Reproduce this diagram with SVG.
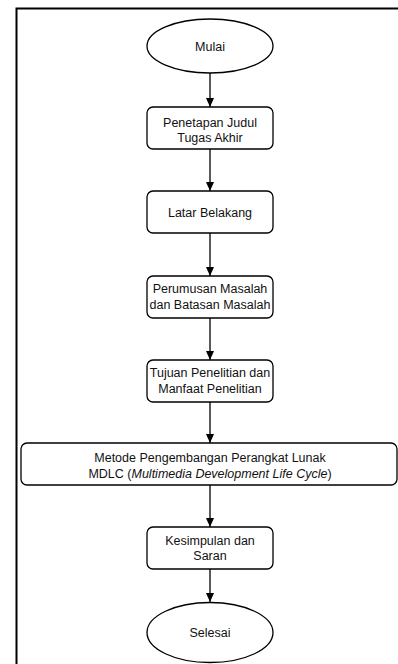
<svg xmlns="http://www.w3.org/2000/svg" width="398" height="664" viewBox="0 0 398 664">
<defs>
<marker id="arr" markerUnits="userSpaceOnUse" markerWidth="10" markerHeight="10" viewBox="0 0 10 10" refX="9" refY="5" orient="auto">
<path d="M0,1 L9,5 L0,9 Z" fill="#000"/>
</marker>
<style>
.n{fill:#fff;stroke:#000;stroke-width:1.3}
.t{font-family:"Liberation Sans",Arial,sans-serif;font-size:12.5px;fill:#111;text-anchor:middle}
.c{stroke:#000;stroke-width:1.3;fill:none;marker-end:url(#arr)}
</style>
</defs>
<rect width="398" height="664" fill="#fff"/>
<path d="M16.5,664 V8.5 H398" fill="none" stroke="#000" stroke-width="2"/>
<g id="connectors">
<line class="c" x1="210" y1="73" x2="210" y2="107"/>
<line class="c" x1="210" y1="149" x2="210" y2="191"/>
<line class="c" x1="210" y1="233" x2="210" y2="276"/>
<line class="c" x1="210" y1="318" x2="210" y2="360"/>
<line class="c" x1="210" y1="402" x2="210" y2="443"/>
<line class="c" x1="210" y1="485" x2="210" y2="527"/>
<line class="c" x1="210" y1="569" x2="210" y2="602"/>
</g>
<g id="mulai">
<ellipse class="n" cx="210" cy="46" rx="63" ry="27"/>
<text class="t" x="210" y="50.5">Mulai</text>
</g>
<g id="penetapan">
<rect class="n" x="147" y="107" width="126" height="42" rx="6"/>
<text class="t" x="210" y="126.5">Penetapan Judul</text>
<text class="t" x="210" y="141.5">Tugas Akhir</text>
</g>
<g id="latar">
<rect class="n" x="147" y="191" width="126" height="42" rx="6"/>
<text class="t" x="210" y="216.5">Latar Belakang</text>
</g>
<g id="perumusan">
<rect class="n" x="147" y="276" width="126" height="42" rx="6"/>
<text class="t" x="210" y="293">Perumusan Masalah</text>
<text class="t" x="210" y="309">dan Batasan Masalah</text>
</g>
<g id="tujuan">
<rect class="n" x="147" y="360" width="126" height="42" rx="6"/>
<text class="t" x="210" y="377">Tujuan Penelitian dan</text>
<text class="t" x="210" y="393">Manfaat Penelitian</text>
</g>
<g id="metode">
<rect class="n" x="21" y="443" width="376" height="42" rx="6"/>
<text class="t" x="210" y="462">Metode Pengembangan Perangkat Lunak</text>
<text class="t" x="210" y="478">MDLC (<tspan font-style="italic">Multimedia Development Life Cycle</tspan>)</text>
</g>
<g id="kesimpulan">
<rect class="n" x="147" y="527" width="126" height="42" rx="6"/>
<text class="t" x="210" y="545">Kesimpulan dan</text>
<text class="t" x="210" y="560">Saran</text>
</g>
<g id="selesai">
<ellipse class="n" cx="210" cy="632.5" rx="63" ry="30"/>
<text class="t" x="210" y="637">Selesai</text>
</g>
</svg>
